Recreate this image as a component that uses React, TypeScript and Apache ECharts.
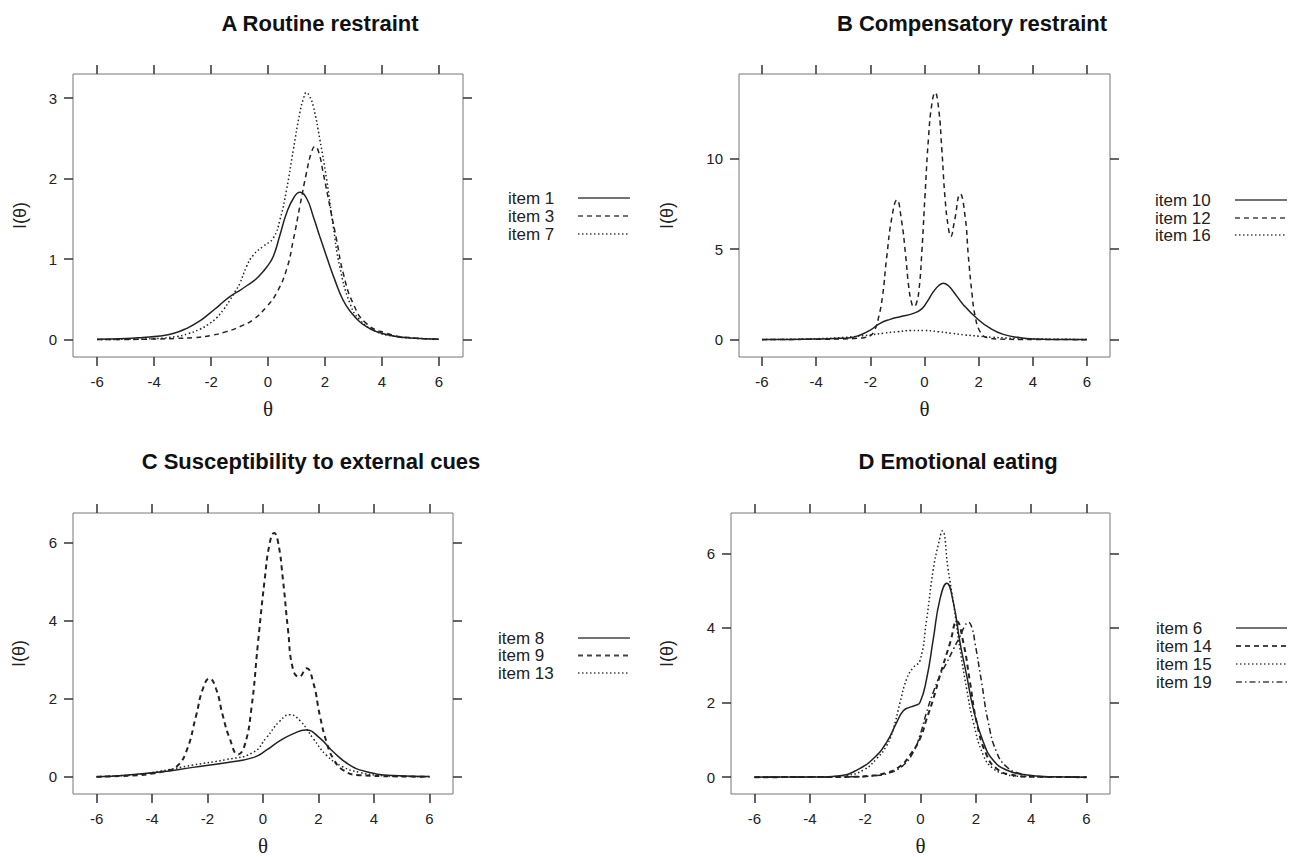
import React, { useEffect, useRef } from "react";
import * as echarts from "echarts";

// ---------- tick labels ----------
const X_TICKS = [-6, -4, -2, 0, 2, 4, 6];
const A_Y_TICKS = [0, 1, 2, 3];
const B_Y_TICKS = [0, 5, 10];
const C_Y_TICKS = [0, 2, 4, 6];
const D_Y_TICKS = [0, 2, 4, 6];

// ---------- A Routine restraint ----------
const A1_T = [-6, -5, -4.4, -3.8, -3.3, -2.86, -2.45, -2.04, -1.7, -1.34, -1.0, -0.75, -0.5, -0.29, -0.05, 0.18, 0.42, 0.65, 0.9, 1.12, 1.35, 1.59, 1.82, 2.06, 2.35, 2.64, 2.94, 3.23, 3.52, 3.81, 4.4, 5, 6];
const A1_I = [0.005, 0.015, 0.028, 0.045, 0.08, 0.14, 0.22, 0.33, 0.43, 0.535, 0.61, 0.67, 0.73, 0.8, 0.9, 1.03, 1.3, 1.57, 1.76, 1.83, 1.76, 1.53, 1.28, 1.03, 0.74, 0.49, 0.33, 0.22, 0.15, 0.1, 0.045, 0.02, 0.006];
const A3_T = [-6, -5, -4, -3.2, -2.63, -2.0, -1.46, -1.0, -0.52, -0.05, 0.3, 0.65, 0.89, 1.12, 1.35, 1.52, 1.65, 1.78, 1.94, 2.17, 2.41, 2.64, 2.99, 3.46, 4.16, 5, 6];
const A3_I = [0.001, 0.003, 0.008, 0.016, 0.025, 0.053, 0.1, 0.16, 0.25, 0.41, 0.58, 0.87, 1.24, 1.66, 2.07, 2.32, 2.4, 2.33, 2.07, 1.66, 1.24, 0.83, 0.45, 0.2, 0.08, 0.025, 0.007];
const A7_T = [-6, -5, -4, -3.21, -2.8, -2.39, -2.1, -1.81, -1.55, -1.34, -1.15, -0.99, -0.75, -0.52, -0.17, 0.18, 0.42, 0.65, 0.89, 1.12, 1.25, 1.35, 1.45, 1.59, 1.82, 2.06, 2.29, 2.52, 2.88, 3.23, 3.81, 4.5, 5.2, 6];
const A7_I = [0.002, 0.005, 0.013, 0.04, 0.075, 0.13, 0.19, 0.27, 0.38, 0.49, 0.6, 0.7, 0.91, 1.05, 1.16, 1.26, 1.49, 1.86, 2.36, 2.82, 3.0, 3.07, 3.03, 2.9, 2.49, 1.99, 1.41, 0.91, 0.45, 0.245, 0.1, 0.04, 0.018, 0.006];

// ---------- B Compensatory restraint ----------
const B10_T = [-6, -5, -4, -3.3, -2.74, -2.37, -2.0, -1.64, -1.27, -0.9, -0.41, -0.1, 0.1, 0.33, 0.52, 0.7, 0.88, 1.07, 1.44, 1.93, 2.42, 2.91, 3.53, 4.02, 5, 6];
const B10_I = [0.002, 0.01, 0.03, 0.06, 0.11, 0.26, 0.53, 0.9, 1.12, 1.27, 1.45, 1.7, 2.1, 2.65, 2.98, 3.11, 2.98, 2.65, 1.92, 1.18, 0.63, 0.29, 0.11, 0.04, 0.01, 0.002];
const B12_T = [-6, -5, -4, -3, -2.5, -2.2, -2.0, -1.85, -1.7, -1.55, -1.4, -1.2, -1.02, -0.85, -0.7, -0.58, -0.48, -0.4, -0.3, -0.2, -0.1, 0.02, 0.15, 0.27, 0.39, 0.52, 0.64, 0.76, 0.88, 0.97, 1.1, 1.32, 1.5, 1.62, 1.75, 1.87, 2.05, 2.3, 2.8, 3.5, 4.5, 6];
const B12_I = [0.0, 0.01, 0.02, 0.04, 0.07, 0.12, 0.22, 0.5, 1.2, 2.4, 4.5, 6.8, 7.72, 6.6, 4.7, 2.9, 2.05, 1.82, 2.0, 2.8, 4.8, 8.0, 11.2, 13.0, 13.65, 12.8, 10.5, 7.8, 6.2, 5.7, 6.5, 8.05, 6.8, 4.6, 2.6, 1.3, 0.45, 0.12, 0.03, 0.01, 0.002, 0.0];
const B16_T = [-6, -5, -4, -3, -2, -1.5, -1, -0.5, 0, 0.5, 1, 1.5, 2, 2.5, 3, 4, 5, 6];
const B16_I = [0.01, 0.02, 0.05, 0.12, 0.26, 0.36, 0.44, 0.5, 0.5, 0.44, 0.35, 0.26, 0.19, 0.13, 0.09, 0.04, 0.02, 0.01];

// ---------- C Susceptibility to external cues ----------
const C8_T = [-6, -4.94, -3.73, -2.53, -1.33, -0.36, 0.12, 0.6, 1.08, 1.54, 2.05, 2.53, 3.13, 3.73, 4.7, 6];
const C8_I = [0.0, 0.04, 0.12, 0.24, 0.36, 0.49, 0.68, 0.92, 1.1, 1.2, 0.99, 0.64, 0.3, 0.13, 0.03, 0.003];
const C9_T = [-6, -4.5, -3.98, -3.5, -3.13, -2.77, -2.41, -2.17, -1.93, -1.69, -1.45, -1.2, -0.9, -0.66, -0.42, -0.18, 0.06, 0.24, 0.4, 0.54, 0.72, 0.9, 1.08, 1.3, 1.57, 1.81, 2.05, 2.29, 2.53, 2.89, 3.49, 4.7, 6];
const C9_I = [0.0, 0.04, 0.085, 0.15, 0.25, 0.64, 1.57, 2.25, 2.52, 2.25, 1.57, 0.98, 0.57, 0.81, 1.74, 3.44, 5.05, 5.98, 6.25, 6.03, 5.05, 3.78, 2.76, 2.56, 2.78, 2.42, 1.57, 0.89, 0.47, 0.17, 0.04, 0.01, 0.0];
const C13_T = [-6, -4.5, -3.73, -2.53, -1.33, -0.36, 0.12, 0.6, 0.96, 1.33, 1.81, 2.29, 2.89, 3.49, 4.1, 5, 6];
const C13_I = [0.0, 0.06, 0.14, 0.3, 0.44, 0.62, 1.0, 1.42, 1.59, 1.44, 0.98, 0.55, 0.25, 0.11, 0.04, 0.01, 0.0];

// ---------- D Emotional eating ----------
const D6_T = [-6, -3.5, -2.91, -2.3, -1.7, -1.22, -0.86, -0.62, -0.4, -0.2, -0.02, 0.22, 0.46, 0.7, 0.95, 1.19, 1.43, 1.67, 1.91, 2.27, 2.63, 3.11, 3.71, 4.68, 6];
const D6_I = [0, 0.005, 0.035, 0.19, 0.5, 0.94, 1.47, 1.78, 1.87, 1.92, 2.0, 2.63, 3.69, 4.76, 5.2, 4.67, 3.6, 2.72, 1.83, 0.94, 0.45, 0.19, 0.07, 0.01, 0];
const D14_T = [-6, -3.5, -2.5, -1.82, -1.22, -0.74, -0.38, -0.02, 0.22, 0.46, 0.7, 1.07, 1.31, 1.55, 1.79, 2.03, 2.39, 2.75, 3.23, 4.07, 6];
const D14_I = [0, 0.002, 0.01, 0.035, 0.12, 0.29, 0.59, 1.03, 1.56, 2.09, 2.72, 3.6, 4.18, 3.6, 2.54, 1.47, 0.59, 0.23, 0.07, 0.01, 0];
const D15_T = [-6, -3.5, -2.67, -2.06, -1.58, -1.22, -0.98, -0.74, -0.5, -0.26, -0.02, 0.22, 0.46, 0.65, 0.79, 1.0, 1.19, 1.43, 1.67, 1.91, 2.27, 2.63, 3.11, 3.59, 6];
const D15_I = [0, 0.01, 0.05, 0.19, 0.5, 0.85, 1.3, 2.0, 2.63, 2.94, 3.12, 4.22, 5.56, 6.25, 6.6, 5.56, 4.67, 3.43, 2.36, 1.47, 0.59, 0.23, 0.07, 0.02, 0];
const D19_T = [-6, -3.5, -2.5, -1.7, -1.1, -0.62, -0.26, -0.02, 0.22, 0.46, 0.7, 0.95, 1.19, 1.43, 1.6, 1.73, 1.86, 1.97, 2.21, 2.45, 2.75, 3.11, 3.59, 4.56, 6];
const D19_I = [0, 0.001, 0.008, 0.035, 0.12, 0.32, 0.67, 1.12, 1.74, 2.27, 2.72, 3.07, 3.43, 3.78, 4.05, 4.15, 4.0, 3.6, 2.54, 1.47, 0.67, 0.28, 0.1, 0.01, 0];

// ---------- styles ----------
const INK = "#222";
const DASHES: Record<string, any> = {
  solid: "solid",
  dashed: [5, 4],
  dotted: [1.5, 2.5],
  dashdot: [6, 3, 1.5, 3],
};
const GDASH: Record<string, any> = {
  solid: null,
  dashed: [5, 4],
  dotted: [1.5, 2.5],
  dashdot: [6, 3, 1.5, 3],
};

const PANELS = [
  {
    title: "A Routine restraint", titleX: 320, titleY: 23,
    grid: { left: 73, top: 74, width: 390, height: 283 },
    yMin: -0.215, yMax: 3.3, yTicks: A_Y_TICKS, yNameGap: 44,
    legendX: 508, legendY: [198, 216, 234], lineX: [578, 630],
    series: [
      { name: "item 1", t: A1_T, v: A1_I, dash: "solid", w: 1.5 },
      { name: "item 3", t: A3_T, v: A3_I, dash: "dashed", w: 1.5 },
      { name: "item 7", t: A7_T, v: A7_I, dash: "dotted", w: 1.5 },
    ],
  },
  {
    title: "B Compensatory restraint", titleX: 972, titleY: 23,
    grid: { left: 739, top: 74, width: 371, height: 283 },
    yMin: -0.96, yMax: 14.68, yTicks: B_Y_TICKS, yNameGap: 63,
    legendX: 1155, legendY: [200, 218, 235], lineX: [1235, 1287],
    series: [
      { name: "item 10", t: B10_T, v: B10_I, dash: "solid", w: 1.5 },
      { name: "item 12", t: B12_T, v: B12_I, dash: "dashed", w: 1.5 },
      { name: "item 16", t: B16_T, v: B16_I, dash: "dotted", w: 1.5 },
    ],
  },
  {
    title: "C Susceptibility to external cues", titleX: 311, titleY: 461,
    grid: { left: 73, top: 513, width: 380, height: 283 },
    yMin: -0.443, yMax: 6.764, yTicks: C_Y_TICKS, yNameGap: 45,
    legendX: 498, legendY: [638, 655.5, 673], lineX: [578, 630],
    series: [
      { name: "item 8", t: C8_T, v: C8_I, dash: "solid", w: 1.5 },
      { name: "item 9", t: C9_T, v: C9_I, dash: "dashed", w: 2 },
      { name: "item 13", t: C13_T, v: C13_I, dash: "dotted", w: 1.5 },
    ],
  },
  {
    title: "D Emotional eating", titleX: 958, titleY: 461,
    grid: { left: 731, top: 513, width: 379, height: 283 },
    yMin: -0.452, yMax: 7.08, yTicks: D_Y_TICKS, yNameGap: 55,
    legendX: 1156, legendY: [628, 646, 664, 682], lineX: [1236, 1287],
    series: [
      { name: "item 6", t: D6_T, v: D6_I, dash: "solid", w: 1.5 },
      { name: "item 14", t: D14_T, v: D14_I, dash: "dashed", w: 2 },
      { name: "item 15", t: D15_T, v: D15_I, dash: "dotted", w: 1.5 },
      { name: "item 19", t: D19_T, v: D19_I, dash: "dashdot", w: 1.5 },
    ],
  },
];

const SANS = '"Liberation Sans", Arial, Helvetica, sans-serif';
const SERIF = '"Liberation Serif", "DejaVu Serif", serif';

function buildOption() {
  const grid: any[] = [];
  const xAxis: any[] = [];
  const yAxis: any[] = [];
  const series: any[] = [];
  const graphic: any[] = [];

  const tickStyle = { color: "#333", width: 1.5 };

  PANELS.forEach((p, g) => {
    grid.push({
      ...p.grid,
      show: true,
      borderColor: "#777",
      borderWidth: 1,
      backgroundColor: "transparent",
      containLabel: false,
    });
    const xBase = {
      type: "value",
      gridIndex: g,
      min: -6.85,
      max: 6.85,
      splitLine: { show: false },
      axisLine: { show: false, onZero: false },
    };
    xAxis.push({
      ...xBase,
      position: "bottom",
      axisTick: { show: true, inside: false, length: 9, lineStyle: tickStyle, customValues: X_TICKS },
      axisLabel: { show: true, customValues: X_TICKS, margin: 17, fontSize: 15, color: INK, fontFamily: SANS },
      name: "θ",
      nameLocation: "middle",
      nameGap: 41,
      nameTextStyle: { fontFamily: SERIF, fontSize: 21, color: INK },
    });
    xAxis.push({
      ...xBase,
      position: "top",
      axisTick: { show: true, inside: false, length: 9, lineStyle: tickStyle, customValues: X_TICKS },
      axisLabel: { show: false },
    });
    const yBase = {
      type: "value",
      gridIndex: g,
      min: p.yMin,
      max: p.yMax,
      splitLine: { show: false },
      axisLine: { show: false, onZero: false },
    };
    yAxis.push({
      ...yBase,
      position: "left",
      axisTick: { show: true, inside: false, length: 9, lineStyle: tickStyle, customValues: p.yTicks },
      axisLabel: { show: true, customValues: p.yTicks, margin: 16, fontSize: 15, color: INK, fontFamily: SANS },
      name: "I(θ)",
      nameLocation: "middle",
      nameRotate: 90,
      nameGap: p.yNameGap,
      nameTextStyle: { fontFamily: SANS, fontSize: 18, color: INK },
    });
    yAxis.push({
      ...yBase,
      position: "right",
      axisTick: { show: true, inside: false, length: 9, lineStyle: tickStyle, customValues: p.yTicks },
      axisLabel: { show: false },
    });

    p.series.forEach((s) => {
      series.push({
        type: "line",
        name: s.name,
        xAxisIndex: 2 * g,
        yAxisIndex: 2 * g,
        data: s.t.map((t, i) => [t, s.v[i]]),
        showSymbol: false,
        smooth: 0.5,
        lineStyle: { color: INK, width: s.w, type: DASHES[s.dash] },
        silent: true,
      });
    });

    graphic.push({
      type: "text",
      x: p.titleX,
      y: p.titleY,
      style: {
        text: p.title,
        font: `bold 22px ${SANS}`,
        fill: "#111",
        align: "center",
        verticalAlign: "middle",
      },
    });

    p.series.forEach((s, k) => {
      graphic.push({
        type: "text",
        x: p.legendX,
        y: p.legendY[k],
        style: {
          text: s.name,
          font: `17px ${SANS}`,
          fill: INK,
          align: "left",
          verticalAlign: "middle",
        },
      });
      graphic.push({
        type: "line",
        shape: { x1: p.lineX[0], y1: p.legendY[k], x2: p.lineX[1], y2: p.legendY[k] },
        style: { stroke: "#444", lineWidth: s.w, lineDash: GDASH[s.dash] },
      });
    });
  });

  return {
    animation: false,
    backgroundColor: "#fff",
    grid,
    xAxis,
    yAxis,
    series,
    graphic,
  };
}

export default function App() {
  const ref = useRef<HTMLDivElement>(null);
  useEffect(() => {
    if (!ref.current) return;
    const chart = echarts.init(ref.current, undefined, { renderer: "svg" });
    chart.setOption(buildOption() as any);
    return () => chart.dispose();
  }, []);
  return (
    <div
      ref={ref}
      style={{ position: "fixed", left: 0, top: 0, width: 1294, height: 857, background: "#fff" }}
    />
  );
}
